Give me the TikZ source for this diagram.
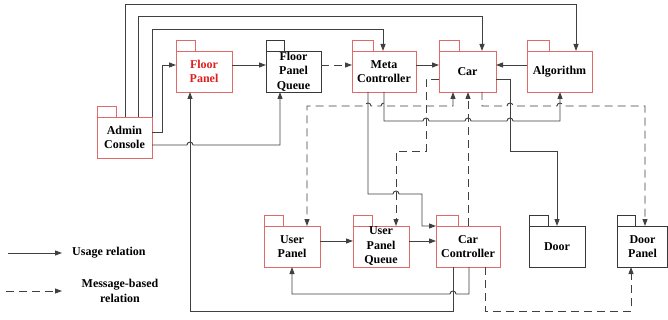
\documentclass[tikz,border=0pt]{standalone}
\usepackage{fontspec}
\setmainfont{Liberation Serif}
\usetikzlibrary{arrows.meta}
\definecolor{pkred}{HTML}{E06A6A}
\definecolor{pkblk}{HTML}{383838}
\definecolor{ln}{HTML}{404040}
\definecolor{txtred}{HTML}{E02020}
\newcommand{\lblfont}{\fontsize{12}{14.5}\selectfont\bfseries}
\tikzset{
  pkg/.style={draw=#1, line width=0.9pt, fill=white, inner sep=0pt, outer sep=0pt, align=center,
    font=\lblfont, minimum height=41pt},
  tabbox/.style={draw=#1, line width=0.9pt, fill=white},
  use/.style={draw=ln, line width=0.9pt, -{Triangle[length=7pt,width=5pt]}},
  msg/.style={draw=ln, line width=0.9pt, dash pattern=on 8pt off 5pt, -{Triangle[length=7pt,width=5pt]}},
  msgp/.style={draw=ln, line width=0.9pt, dash pattern=on 8pt off 5pt},
  lgd/.style={font=\lblfont, inner sep=0pt},
}
\newcommand{\hr}{arc[start angle=180,end angle=360,radius=3]}
\newcommand{\hl}{arc[start angle=0,end angle=-180,radius=3]}
\begin{document}
\begin{tikzpicture}[x=1pt,y=-1pt]
\useasboundingbox[fill=white] (0,0) rectangle (668,320);
% packages
\node[pkg=pkred, minimum width=55pt] (admin) at (124.5,137.5) {Admin\\Console};
\node[pkg=pkred, minimum width=56pt, text=txtred] (fp) at (204,71.5) {Floor\\Panel};
\node[pkg=pkblk, minimum width=55pt] (fpq) at (293.5,71.5) {Floor\\Panel\\Queue};
\node[pkg=pkred, minimum width=64pt] (meta) at (384,71.5) {Meta\\Controller};
\node[pkg=pkred, minimum width=57pt] (car) at (467.5,71.5) {Car};
\node[pkg=pkred, minimum width=65pt] (alg) at (559.5,71.5) {Algorithm};
\node[pkg=pkred, minimum width=56pt] (up) at (292,246.5) {User\\Panel};
\node[pkg=pkred, minimum width=56pt] (upq) at (381,246.5) {User\\Panel\\Queue};
\node[pkg=pkred, minimum width=64pt] (cc) at (468,246.5) {Car\\Controller};
\node[pkg=pkblk, minimum width=56pt] (door) at (557,246.5) {Door};
\node[pkg=pkblk, minimum width=50pt] (dp) at (642.5,246.5) {Door\\Panel};
\foreach \n/\c/\w in {admin/pkred/19,fp/pkred/19,fpq/pkblk/18,meta/pkred/21,car/pkred/20,alg/pkred/22,up/pkred/19,upq/pkred/19,cc/pkred/22,door/pkblk/19,dp/pkblk/18}
  \draw[tabbox=\c] (\n.north west) -- ++(0,-11) -- ++(\w,0) -- ++(0,11);
% lines from Admin Console
\draw[use] (125,0 |- admin.north) -- (125,4) -- (576,4) -- (576,0 |- alg.north);
\draw[use] (138,0 |- admin.north) -- (138,16) -- (482,16) -- (482,0 |- car.north);
\draw[use] (admin.north east) -- (152,29) -- (383,29) -- (383,0 |- meta.north);
\draw[use] (0,132 -| admin.east) -- (162,132) -- (162,65) -- (0,65 -| fp.west);
\draw[use] (0,145 -| admin.east) -- (187,145) \hr -- (280,145) -- (280,0 |- fpq.south);
% top row
\draw[use] (0,65 -| fp.east) -- (0,65 -| fpq.west);
\draw[msg] (0,65 -| fpq.east) -- (0,65 -| meta.west);
\draw[use] (0,65 -| meta.east) -- (0,65 -| car.west);
\draw[use] (0,65 -| alg.west) -- (0,65 -| car.east);
\draw[use] (384,0 |- meta.south) -- (384,121) -- (423,121) \hr -- (465,121) \hr -- (507,121) \hr -- (560,121) -- (560,0 |- alg.south);
\draw[use] (0,79 -| car.east) -- (510,79) -- (510,151) -- (557,151) -- (557,0 |- door.north);
\draw[use] (368,0 |- meta.south) -- (368,194) -- (393,194) \hr -- (422,194) -- (422,226) -- (cc.north west);
% bottom row
\draw[use] (0,241 -| up.east) -- (0,241 -| upq.west);
\draw[use] (0,241 -| upq.east) -- (0,241 -| cc.west);
\draw[use] (453,0 |- cc.south) -- (453,311) -- (190,311) -- (190,0 |- fp.south);
\draw[use] (469,0 |- cc.south) -- (469,294) -- (456,294) \hl -- (292,294) -- (292,0 |- up.south);
% message-based
\draw[msgp, {Triangle[length=7pt,width=5pt]}-{Triangle[length=7pt,width=5pt]}] (453,0 |- car.south) -- (453,106) -- (387,106) \hl -- (371,106) \hl -- (307,106) -- (307,0 |- up.north);
\draw[msg] (0,79 -| car.west) -- (426,79) -- (426,151) -- (396,151) -- (396,0 |- upq.north);
\draw[msg] (482,0 |- car.south) -- (482,106) -- (507,106) \hr -- (557,106) \hr -- (645,106) -- (645,0 |- dp.north);
\draw[msg] (468,0 |- cc.north) -- (468,0 |- car.south);
\draw[msg] (485,0 |- cc.south) -- (485,311) -- (631,311) -- (631,0 |- dp.south);
% legend
\coordinate (l1a) at (8,253); \coordinate (l1b) at (62,253);
\coordinate (l2a) at (6,291); \coordinate (l2b) at (62,291);
\draw[use] (l1a) -- (l1b);
\draw[msg] (l2a) -- (l2b);
\node[lgd, anchor=west] (lu) at (72,253) {Usage relation};
\node[lgd, align=center] (lm) at (120,291) {Message-based\\relation};
\end{tikzpicture}
\end{document}
